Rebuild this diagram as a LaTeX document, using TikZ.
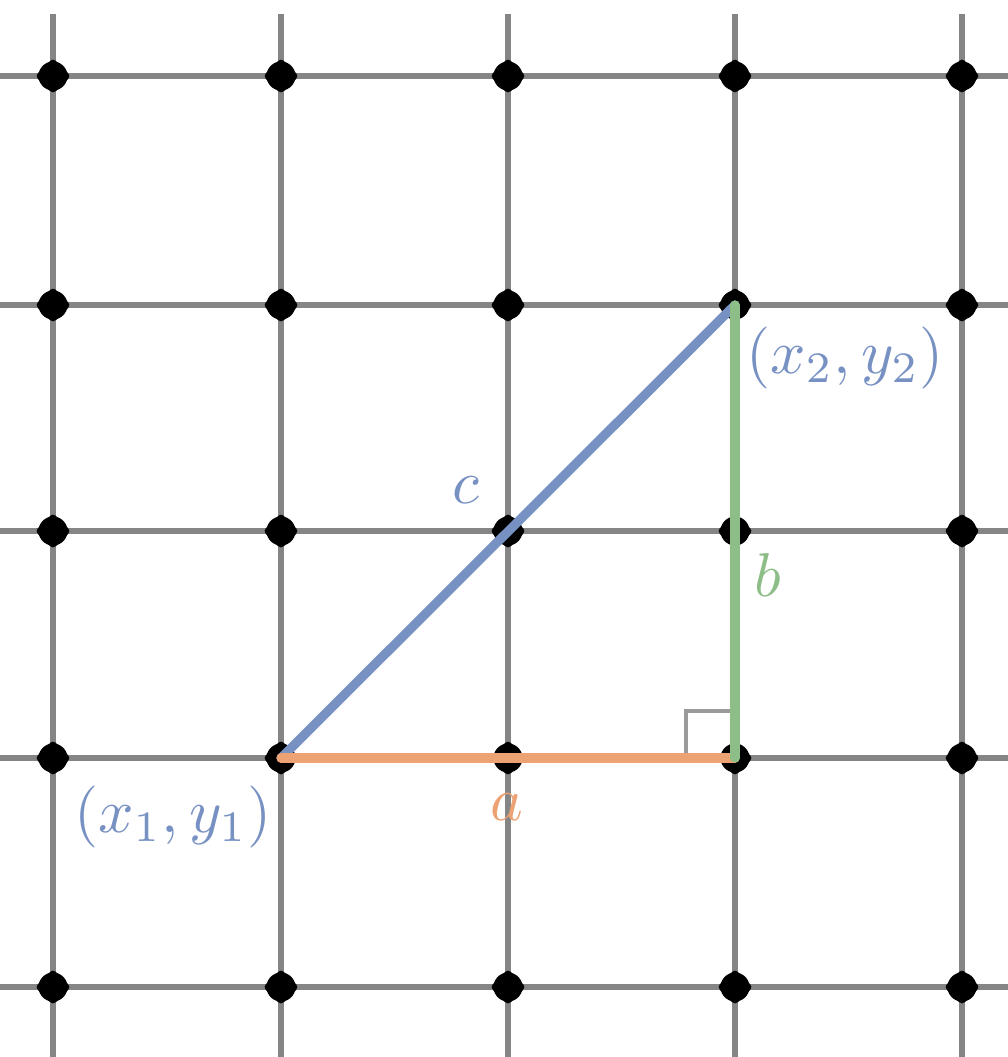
\documentclass[tikz,border=0pt]{standalone}
\usepackage{graphicx}
\definecolor{cblue}{HTML}{7891C3}
\definecolor{cgreen}{HTML}{8DBE88}
\definecolor{corange}{HTML}{EDA273}
\definecolor{cgrid}{HTML}{858585}
\definecolor{cmark}{HTML}{9A9A9A}
\newcommand{\biglbl}[1]{\scalebox{3.1}{$#1$}}
\tikzset{
  gridline/.style={draw=cgrid, line width=3pt},
  griddot/.style={fill=black, rounded corners=2pt},
  side/.style={line width=4.6pt, line cap=round},
  lbl/.style={inner sep=0pt},
}
\begin{document}
\begin{tikzpicture}[x=0.5pt,y=-0.5pt]
\useasboundingbox (0,0) rectangle (1008,1057);
% grid lines
\foreach \gx in {53,281,508,735,962}{
  \draw[gridline] (\gx,14) -- (\gx,1057);
}
\foreach \gy in {76,305,531,758,987}{
  \draw[gridline] (0,\gy) -- (1008,\gy);
}
% grid dots
\foreach \gx in {53,281,508,735,962}{
  \foreach \gy in {76,305,531,758,987}{
    \fill[griddot] (\gx+18,\gy) -- (\gx,\gy+18) -- (\gx-18,\gy) -- (\gx,\gy-18) -- cycle;
    \fill[black] (\gx,\gy) circle[radius=14.5];
  }
}
% triangle vertices
\coordinate (A) at (281,758);
\coordinate (B) at (735,758);
\coordinate (C) at (735,305);
% right angle mark
\coordinate (R1) at (686,758);
\coordinate (R2) at (686,711);
\coordinate (R3) at (735,711);
\draw[cmark, line width=1.6pt] (R1) -- (R2) -- (R3);
% sides
\draw[side, cblue] (A) -- (C);
\draw[side, corange] (A) -- (B);
\draw[side, cgreen] (C) -- (B);
% labels
\node[lbl, text=cblue] (lc) at (466,490) {\biglbl{c}};
\node[lbl, text=cgreen] (lb) at (768,575) {\biglbl{b}};
\node[lbl, text=corange] (la) at (507,807) {\biglbl{a}};
\node[lbl, text=cblue] (lp2) at (845,358) {\biglbl{(x_2,y_2)}};
\node[lbl, text=cblue] (lp1) at (173,817) {\biglbl{(x_1,y_1)}};
\end{tikzpicture}
\end{document}
